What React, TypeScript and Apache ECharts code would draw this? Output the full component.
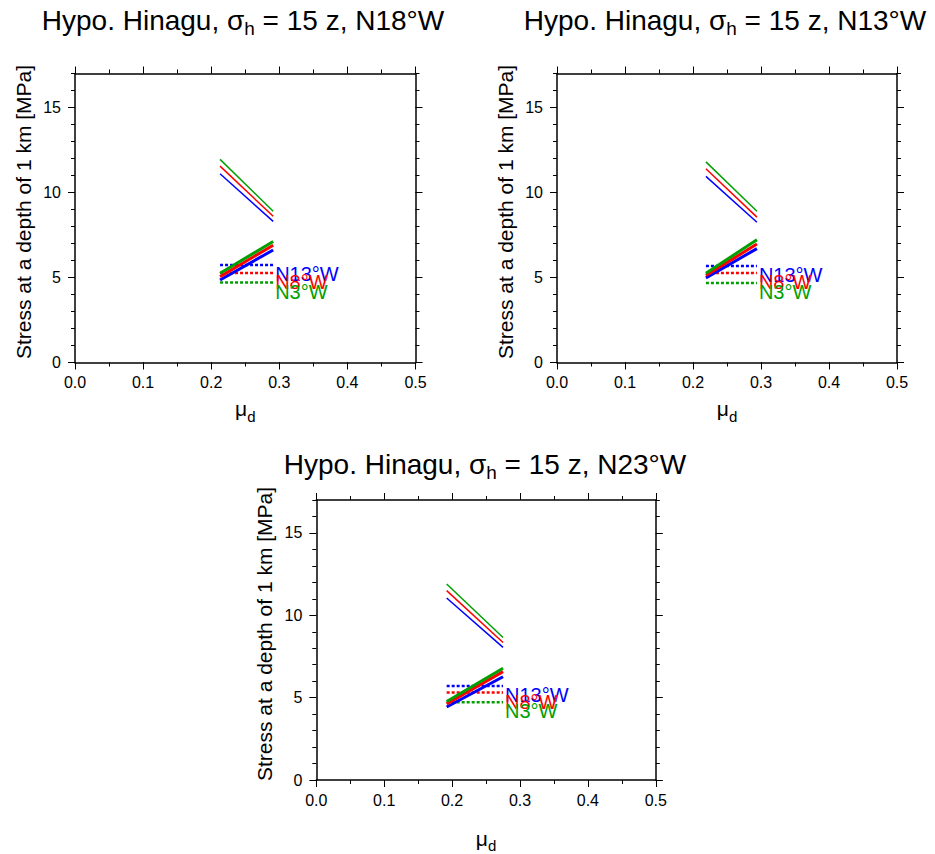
import React, { useEffect, useRef } from 'react';
import * as echarts from 'echarts';

const FONT = '"Liberation Sans", Arial, Helvetica, sans-serif';

// Panel orientations (title) and curve labels
const PANEL_AZIMUTHS = ['N18°W', 'N13°W', 'N23°W'];
const CURVE_LABELS = ['N13°W', 'N8°W', 'N3°W'];
const CURVE_COLORS = ['#0000ff', '#ff0000', '#00a000'];

// mu_d range of each panel's curves [start, end]
const MU_RANGE = [
  [0.213, 0.291],
  [0.219, 0.294],
  [0.192, 0.275],
];

// Upper (decreasing) stress lines per panel: [at start, at end]
const UPPER_N13 = [[11.1, 8.3], [10.95, 8.25], [11.05, 8.05]];
const UPPER_N8 = [[11.55, 8.6], [11.4, 8.55], [11.5, 8.35]];
const UPPER_N3 = [[11.95, 8.9], [11.8, 8.9], [11.9, 8.65]];

// Lower (increasing) stress lines per panel
const LOWER_N13 = [[4.85, 6.62], [4.98, 6.7], [4.43, 6.27]];
const LOWER_N8 = [[5.05, 6.9], [5.12, 6.97], [4.62, 6.58]];
const LOWER_N3 = [[5.25, 7.12], [5.25, 7.22], [4.77, 6.78]];

// Horizontal dotted levels per panel
const FLAT_N13 = [5.73, 5.68, 5.7];
const FLAT_N8 = [5.27, 5.27, 5.31];
const FLAT_N3 = [4.7, 4.68, 4.72];

// Tick values
const X_MAJOR = [0, 0.1, 0.2, 0.3, 0.4, 0.5];
const X_MINOR = [0, 0.05, 0.1, 0.15, 0.2, 0.25, 0.3, 0.35, 0.4, 0.45, 0.5];
const Y_MAJOR = [0, 5, 10, 15];
const Y_MINOR = [0, 1, 2, 3, 4, 5, 6, 7, 8, 9, 10, 11, 12, 13, 14, 15, 16, 17];

const UPPER = [UPPER_N13, UPPER_N8, UPPER_N3];
const LOWER = [LOWER_N13, LOWER_N8, LOWER_N3];
const FLAT = [FLAT_N13, FLAT_N8, FLAT_N3];

const GRIDS = [
  { left: 75, top: 73.5, width: 340.5, height: 289 },
  { left: 557, top: 73.5, width: 340, height: 289 },
  { left: 316.3, top: 500, width: 339.5, height: 289.3 },
];
const TITLE_POS = [
  { x: 243, y: 20 },
  { x: 725, y: 20 },
  { x: 485, y: 464 },
];
const X_NAME_GAP = [31, 31, 43];

function buildOption() {
  const grid: any[] = [];
  const xAxis: any[] = [];
  const yAxis: any[] = [];
  const series: any[] = [];
  const graphic: any[] = [];
  const black = '#000';

  GRIDS.forEach((g, p) => {
    grid.push({ ...g, containLabel: false });
    const common = { gridIndex: p, type: 'value', splitLine: { show: false } };
    // x axes
    xAxis.push({
      ...common, min: 0, max: 0.5, position: 'bottom',
      axisLine: { show: true, onZero: false, lineStyle: { color: black, width: 1.5 } },
      axisTick: { show: true, length: 7, customValues: X_MAJOR, lineStyle: { color: black, width: 1 } },
      axisLabel: { show: true, customValues: X_MAJOR, formatter: (v: number) => v.toFixed(1), margin: 12, fontSize: 16, color: black, fontFamily: FONT },
      name: '{m|μ}{d|d}', nameLocation: 'middle', nameGap: X_NAME_GAP[p],
      nameTextStyle: {
        color: black, fontFamily: FONT,
        rich: {
          m: { fontSize: 21, lineHeight: 30, fontFamily: FONT, color: black },
          d: { fontSize: 15, lineHeight: 15, verticalAlign: 'bottom', fontFamily: FONT, color: black },
        },
      },
    });
    xAxis.push({
      ...common, min: 0, max: 0.5, position: 'bottom',
      axisLine: { show: false, onZero: false },
      axisTick: { show: true, length: 4, customValues: X_MINOR, lineStyle: { color: black, width: 1 } },
      axisLabel: { show: false },
    });
    xAxis.push({
      ...common, min: 0, max: 0.5, position: 'top',
      axisLine: { show: true, onZero: false, lineStyle: { color: black, width: 1.5 } },
      axisTick: { show: true, length: 7, customValues: X_MAJOR, lineStyle: { color: black, width: 1 } },
      axisLabel: { show: false },
    });
    xAxis.push({
      ...common, min: 0, max: 0.5, position: 'top',
      axisLine: { show: false, onZero: false },
      axisTick: { show: true, length: 4, customValues: X_MINOR, lineStyle: { color: black, width: 1 } },
      axisLabel: { show: false },
    });
    // y axes
    yAxis.push({
      ...common, min: 0, max: 17, position: 'left',
      axisLine: { show: true, onZero: false, lineStyle: { color: black, width: 1.5 } },
      axisTick: { show: true, length: 7, customValues: Y_MAJOR, lineStyle: { color: black, width: 1 } },
      axisLabel: { show: true, customValues: Y_MAJOR, margin: 14, fontSize: 16, color: black, fontFamily: FONT },
      name: 'Stress at a depth of 1 km [MPa]', nameLocation: 'middle', nameGap: 41, nameRotate: 90,
      nameTextStyle: { color: black, fontFamily: FONT, fontSize: 21, padding: [0, 0, 0, 12] },
    });
    yAxis.push({
      ...common, min: 0, max: 17, position: 'left',
      axisLine: { show: false, onZero: false },
      axisTick: { show: true, length: 4, customValues: Y_MINOR, lineStyle: { color: black, width: 1 } },
      axisLabel: { show: false },
    });
    yAxis.push({
      ...common, min: 0, max: 17, position: 'right',
      axisLine: { show: true, onZero: false, lineStyle: { color: black, width: 1.5 } },
      axisTick: { show: true, length: 7, customValues: Y_MAJOR, lineStyle: { color: black, width: 1 } },
      axisLabel: { show: false },
    });
    yAxis.push({
      ...common, min: 0, max: 17, position: 'right',
      axisLine: { show: false, onZero: false },
      axisTick: { show: true, length: 4, customValues: Y_MINOR, lineStyle: { color: black, width: 1 } },
      axisLabel: { show: false },
    });

    const xi = p * 4;
    const yi = p * 4;
    const [m0, m1] = MU_RANGE[p];

    // dotted levels with labels
    for (let k = 0; k < 3; k++) {
      series.push({
        type: 'line', xAxisIndex: xi, yAxisIndex: yi, symbol: 'none', silent: true,
        data: [[m0, FLAT[k][p]], [m1, FLAT[k][p]]],
        lineStyle: { color: CURVE_COLORS[k], width: 2.5, type: [3, 2] },
        endLabel: {
          show: true, formatter: CURVE_LABELS[k], color: CURVE_COLORS[k],
          fontSize: 20, fontFamily: FONT, distance: 2, offset: [0, 9],
        },
      });
    }
    for (let k = 0; k < 3; k++) {
      series.push({
        type: 'line', xAxisIndex: xi, yAxisIndex: yi, symbol: 'none', silent: true,
        data: [[m0, UPPER[k][p][0]], [m1, UPPER[k][p][1]]],
        lineStyle: { color: CURVE_COLORS[k], width: 1.5 },
      });
    }
    for (let k = 0; k < 3; k++) {
      series.push({
        type: 'line', xAxisIndex: xi, yAxisIndex: yi, symbol: 'none', silent: true,
        data: [[m0, LOWER[k][p][0]], [m1, LOWER[k][p][1]]],
        lineStyle: { color: CURVE_COLORS[k], width: 3 },
      });
    }

    graphic.push({
      type: 'text', x: TITLE_POS[p].x, y: TITLE_POS[p].y, silent: true,
      style: {
        text: `{a|Hypo. Hinagu, }{a|σ}{b|h}{a| = 15 z, ${PANEL_AZIMUTHS[p]}}`,
        align: 'center', verticalAlign: 'middle',
        fill: black, fontFamily: FONT, fontSize: 28,
        rich: {
          a: { fontSize: 28, lineHeight: 36, fontFamily: FONT, fill: black },
          b: { fontSize: 19, lineHeight: 19, verticalAlign: 'bottom', fontFamily: FONT, fill: black },
        },
      },
    });
  });

  return {
    animation: false,
    backgroundColor: '#fff',
    grid, xAxis, yAxis, series, graphic,
  };
}

export default function App() {
  const ref = useRef<HTMLDivElement>(null);
  useEffect(() => {
    if (!ref.current) return;
    const chart = echarts.init(ref.current, null, { renderer: 'svg' });
    chart.setOption(buildOption() as any);
    return () => chart.dispose();
  }, []);
  return (
    <div
      ref={ref}
      style={{ position: 'fixed', left: 0, top: 0, width: 935, height: 854, background: '#fff' }}
    />
  );
}
